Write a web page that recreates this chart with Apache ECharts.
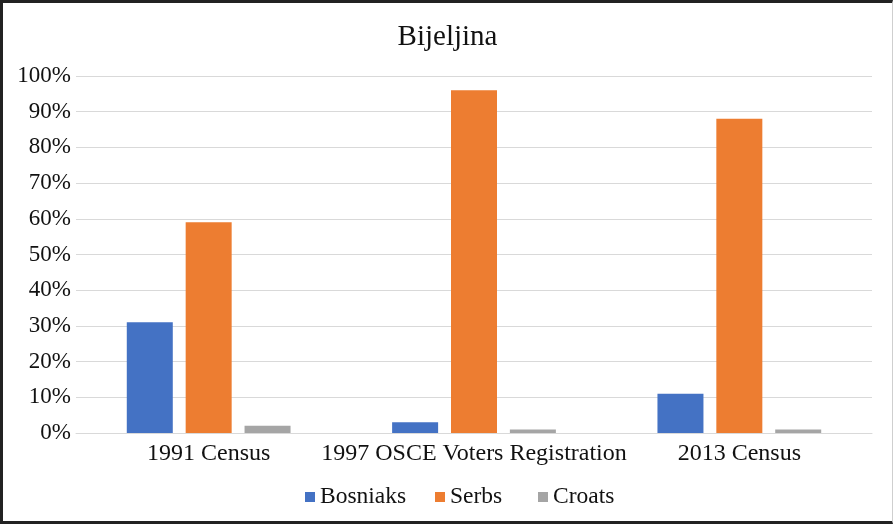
<!DOCTYPE html>
<html>
<head>
<meta charset="utf-8">
<script src="https://cdn.jsdelivr.net/npm/echarts@6/dist/echarts.min.js"></script>
<style>
  html, body { margin: 0; padding: 0; background: #fff; }
  #chart {
    width: 893px; height: 524px; box-sizing: border-box;
    border: 3px solid #222; border-right: 1px solid #cfcfcf;
  }
</style>
</head>
<body>
<div id="chart"></div>
<script>
// 数据
const categories = ['1991 Census', '1997 OSCE Voters Registration', '2013 Census']
const bosniaks = [31, 3, 11]
const serbs = [59, 96, 88]
const croats = [2, 1, 1]
const seriesNames = ['Bosniaks', 'Serbs', 'Croats']
const seriesColors = ['#4472C4', '#ED7D31', '#A5A5A5']

const chartInstance = echarts.init(document.getElementById('chart'))
const font = 'Liberation Serif'

// 图例：每项单独定位
const legendLefts = [297, 427, 530]
const legends = seriesNames.map((name, i) => ({
  data: [name],
  left: legendLefts[i],
  top: 477,
  itemWidth: 10,
  itemHeight: 10,
  icon: 'rect',
  textStyle: { fontFamily: font, fontSize: 23.5, color: '#111' }
}))

const option = {
  animation: false,
  title: {
    text: 'Bijeljina',
    left: 'center',
    top: 15,
    textStyle: { fontFamily: font, fontSize: 29, fontWeight: 'normal', color: '#111' }
  },
  legend: legends,
  grid: { left: 73, right: 20, top: 73, bottom: 88 },
  xAxis: {
    type: 'category',
    data: categories,
    axisTick: { show: false },
    axisLine: { lineStyle: { color: '#d9d9d9', width: 1 } },
    axisLabel: { fontFamily: font, fontSize: 24, color: '#111', margin: 9, interval: 0 }
  },
  yAxis: {
    type: 'value',
    min: 0,
    max: 100,
    interval: 10,
    axisLabel: { fontFamily: font, fontSize: 23, color: '#111', margin: 5, formatter: '{value}%' },
    splitLine: { lineStyle: { color: '#d9d9d9', width: 1 } }
  },
  series: [
    { name: seriesNames[0], type: 'bar', data: bosniaks, barWidth: 46, barGap: '28%', itemStyle: { color: seriesColors[0] } },
    { name: seriesNames[1], type: 'bar', data: serbs, barWidth: 46, barGap: '28%', itemStyle: { color: seriesColors[1] } },
    { name: seriesNames[2], type: 'bar', data: croats, barWidth: 46, barGap: '28%', itemStyle: { color: seriesColors[2] } }
  ]
}
chartInstance.setOption(option)
</script>
</body>
</html>
